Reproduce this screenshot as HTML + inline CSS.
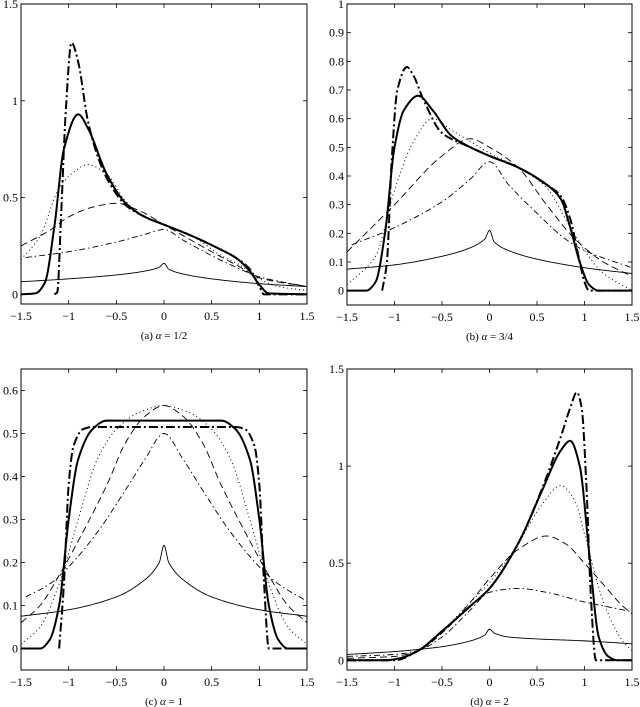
<!DOCTYPE html>
<html><head><meta charset="utf-8"><style>
body{margin:0;background:#fff}
svg{display:block;font-family:"Liberation Serif",serif}
</style></head><body>
<svg id="chart" width="640" height="707" viewBox="0 0 640 707" xmlns="http://www.w3.org/2000/svg"></svg>
<script>
// Panel (a) alpha=1/2
const aThinX=[-1.5,-1,-0.5,-0.2,-0.05,0,0.05,0.2,0.5,1,1.5];
const aThinY=[0.065,0.08,0.1,0.12,0.14,0.16,0.13,0.105,0.08,0.055,0.04];
const aDdX=[-1.45,-1,-0.5,-0.2,0,0.2,0.5,0.8,1,1.5];
const aDdY=[0.19,0.22,0.27,0.31,0.335,0.28,0.2,0.13,0.09,0.04];
const aDashX=[-1.5,-1.2,-1,-0.75,-0.5,-0.25,0,0.5,0.8,1,1.5];
const aDashY=[0.25,0.33,0.4,0.45,0.47,0.43,0.36,0.22,0.14,0.085,0.04];
const aDotX=[-1.5,-1.3,-1.1,-0.95,-0.8,-0.6,-0.4,-0.2,0,0.3,0.6,0.8,1,1.2,1.5];
const aDotY=[0.18,0.3,0.55,0.63,0.67,0.62,0.48,0.4,0.36,0.3,0.2,0.15,0.08,0.04,0.02];
const aThickX=[-1.5,-1.35,-1.25,-1.15,-1.05,-0.9,-0.8,-0.6,-0.4,-0.2,0,0.3,0.6,0.75,0.9,1,1.1,1.5];
const aThickY=[0,0.005,0.06,0.35,0.75,0.93,0.86,0.62,0.47,0.4,0.36,0.3,0.23,0.19,0.12,0.05,0.005,0];
const aTddX=[-1.15,-1.12,-1.08,-1.03,-0.97,-0.9,-0.8,-0.7,-0.6,-0.4,-0.2,0,0.3,0.6,0.75,0.9,1,1.05,1.5];
const aTddY=[0,0.01,0.4,0.95,1.3,1.2,0.9,0.72,0.6,0.46,0.4,0.36,0.3,0.23,0.19,0.13,0.04,0,0];
// Panel (b) alpha=3/4
const bThinX=[-1.5,-1,-0.5,-0.2,-0.05,0,0.05,0.2,0.5,1,1.5];
const bThinY=[0.075,0.09,0.12,0.15,0.18,0.21,0.17,0.14,0.11,0.08,0.06];
const bDdX=[-1.45,-1,-0.5,-0.2,0,0.2,0.5,0.8,1,1.5];
const bDdY=[0.16,0.22,0.31,0.39,0.45,0.37,0.27,0.18,0.14,0.08];
const bDashX=[-1.5,-1,-0.5,-0.2,0,0.3,0.6,0.9,1.2,1.5];
const bDashY=[0.135,0.3,0.47,0.53,0.5,0.43,0.3,0.18,0.1,0.05];
const bDotX=[-1.5,-1.2,-1,-0.8,-0.6,-0.4,-0.2,0,0.3,0.6,0.8,1,1.2,1.5];
const bDotY=[0.02,0.12,0.35,0.52,0.6,0.56,0.52,0.48,0.43,0.36,0.25,0.14,0.06,0];
const bThickX=[-1.5,-1.3,-1.2,-1.1,-1,-0.9,-0.75,-0.6,-0.4,-0.2,0,0.3,0.6,0.75,0.85,0.95,1.05,1.15,1.5];
const bThickY=[0,0,0.03,0.2,0.5,0.63,0.68,0.63,0.54,0.5,0.47,0.43,0.37,0.32,0.22,0.1,0.02,0,0];
const bTddX=[-1.13,-1.08,-1.03,-0.97,-0.87,-0.8,-0.7,-0.5,-0.2,0,0.3,0.6,0.75,0.85,0.95,1,1.05,1.5];
const bTddY=[0,0.1,0.45,0.7,0.78,0.75,0.67,0.55,0.5,0.47,0.43,0.37,0.33,0.25,0.1,0.03,0,0];
// Panel (c) alpha=1
const cThinX=[-1.5,-1,-0.5,-0.2,-0.05,0,0.05,0.2,0.5,1,1.5];
const cThinY=[0.075,0.09,0.12,0.16,0.2,0.24,0.2,0.16,0.12,0.09,0.075];
const cDdX=[-1.45,-1.2,-1,-0.7,-0.4,-0.2,0,0.2,0.4,0.7,1,1.2,1.5];
const cDdY=[0.12,0.15,0.19,0.27,0.37,0.44,0.5,0.44,0.37,0.27,0.19,0.15,0.11];
const cDashX=[-1.5,-1.3,-1.1,-0.9,-0.6,-0.4,-0.2,0,0.2,0.4,0.6,0.9,1.1,1.3,1.5];
const cDashY=[0.06,0.1,0.17,0.25,0.38,0.48,0.54,0.565,0.54,0.48,0.38,0.25,0.17,0.1,0.06];
const cDotX=[-1.5,-1.3,-1.1,-0.9,-0.7,-0.5,-0.25,0,0.25,0.5,0.7,0.9,1.1,1.3,1.5];
const cDotY=[0.01,0.05,0.15,0.3,0.44,0.51,0.55,0.565,0.55,0.51,0.44,0.3,0.15,0.05,0.01];
const cThickX=[-1.5,-1.3,-1.2,-1.1,-1,-0.9,-0.75,-0.6,0,0.6,0.75,0.9,1,1.1,1.2,1.3,1.5];
const cThickY=[0,0,0.02,0.1,0.3,0.44,0.51,0.53,0.53,0.53,0.51,0.44,0.3,0.1,0.02,0,0];
const cTddX=[-1.1,-1.05,-1,-0.95,-0.85,-0.75,0,0.75,0.85,0.95,1,1.05,1.1,1.5];
const cTddY=[0,0.15,0.38,0.47,0.51,0.515,0.515,0.515,0.51,0.47,0.38,0.15,0,0];
// Panel (d) alpha=2
const dThinX=[-1.5,-1,-0.5,-0.2,-0.05,0,0.05,0.2,0.5,1,1.5];
const dThinY=[0.03,0.045,0.07,0.1,0.13,0.16,0.14,0.12,0.11,0.1,0.085];
const dDdX=[-1.5,-1,-0.75,-0.5,-0.2,0,0.3,0.6,1,1.3,1.5];
const dDdY=[0.02,0.03,0.05,0.12,0.26,0.35,0.37,0.35,0.3,0.27,0.25];
const dDashX=[-1.5,-1,-0.75,-0.5,-0.2,0,0.3,0.6,0.8,1,1.2,1.4,1.5];
const dDashY=[0.01,0.02,0.05,0.14,0.3,0.42,0.57,0.64,0.6,0.5,0.39,0.28,0.24];
const dDotX=[-1.5,-1,-0.75,-0.5,-0.2,0,0.3,0.55,0.75,0.9,1,1.2,1.4,1.5];
const dDotY=[0,0.005,0.05,0.15,0.3,0.4,0.6,0.8,0.9,0.82,0.65,0.3,0.1,0.05];
const dThickX=[-1.5,-1.1,-0.95,-0.75,-0.5,-0.2,0,0.3,0.55,0.75,0.85,0.95,1.05,1.15,1.25,1.35,1.5];
const dThickY=[0,0,0.01,0.05,0.15,0.28,0.37,0.6,0.87,1.08,1.13,1,0.55,0.12,0.02,0,0];
const dTddX=[-1.5,-1,-0.75,-0.5,-0.2,0,0.3,0.55,0.75,0.85,0.92,0.97,1.02,1.07,1.12,1.5];
const dTddY=[0,0,0.05,0.15,0.28,0.37,0.6,0.88,1.15,1.3,1.38,1.3,0.9,0.3,0,0];

const xTicks=[-1.5,-1,-0.5,0,0.5,1,1.5];
const xTickLabels=["\u22121.5","\u22121","\u22120.5","0","0.5","1","1.5"];
const panels=[
 {id:"a",cap:"(a) ",capV:" = 1/2",x0:21,x1:307,y0:4,y1:304,ymin:-0.05,ymax:1.5,yt:[0,0.5,1,1.5],s:[[aThinX,aThinY],[aDdX,aDdY],[aDashX,aDashY],[aDotX,aDotY],[aThickX,aThickY],[aTddX,aTddY]]},
 {id:"b",cap:"(b) ",capV:" = 3/4",x0:347,x1:632,y0:4,y1:305,ymin:-0.05,ymax:1,yt:[0,0.1,0.2,0.3,0.4,0.5,0.6,0.7,0.8,0.9,1],s:[[bThinX,bThinY],[bDdX,bDdY],[bDashX,bDashY],[bDotX,bDotY],[bThickX,bThickY],[bTddX,bTddY]]},
 {id:"c",cap:"(c) ",capV:" = 1",x0:21,x1:307,y0:369,y1:670,ymin:-0.05,ymax:0.65,yt:[0,0.1,0.2,0.3,0.4,0.5,0.6],s:[[cThinX,cThinY],[cDdX,cDdY],[cDashX,cDashY],[cDotX,cDotY],[cThickX,cThickY],[cTddX,cTddY]]},
 {id:"d",cap:"(d) ",capV:" = 2",x0:347,x1:632,y0:369,y1:670,ymin:-0.05,ymax:1.5,yt:[0,0.5,1,1.5],s:[[dThinX,dThinY],[dDdX,dDdY],[dDashX,dDashY],[dDotX,dDotY],[dThickX,dThickY],[dTddX,dTddY]]}
];
const styles=[
 {w:0.9,d:"",n:"thin-solid"},
 {w:0.9,d:"6,3,1.5,3",n:"thin-dashdot"},
 {w:0.9,d:"7,4",n:"dashed"},
 {w:1,d:"1,3",n:"dotted"},
 {w:2,d:"",n:"thick-solid"},
 {w:2,d:"9,3,2,3",n:"thick-dashdot"}
];
const NS="http://www.w3.org/2000/svg";
const svg=document.getElementById("chart");
function mk(tag,attrs,parent){const e=document.createElementNS(NS,tag);for(const k in attrs)e.setAttribute(k,attrs[k]);(parent||svg).appendChild(e);return e;}
function fmt(v){return (Math.round(v*10)/10).toString();}
function monotone(xs,ys){
 const n=xs.length,d=[],m=[];
 for(let i=0;i<n-1;i++)d.push((ys[i+1]-ys[i])/(xs[i+1]-xs[i]));
 m[0]=d[0];m[n-1]=d[n-2];
 for(let i=1;i<n-1;i++){ if(d[i-1]*d[i]<=0)m[i]=0; else {m[i]=2/(1/d[i-1]+1/d[i]);} }
 const out=[];
 for(let i=0;i<n-1;i++){const h=xs[i+1]-xs[i];
  for(let k=0;k<20;k++){const t=k/20,t2=t*t,t3=t2*t;
   const y=(2*t3-3*t2+1)*ys[i]+(t3-2*t2+t)*h*m[i]+(-2*t3+3*t2)*ys[i+1]+(t3-t2)*h*m[i+1];
   out.push([xs[i]+t*h,y]);}}
 out.push([xs[n-1],ys[n-1]]);return out;
}
panels.forEach(p=>{
 const g=mk("g",{});
 
 
 const X=v=>p.x0+(v+1.5)/3*(p.x1-p.x0);
 const Y=v=>p.y1-(v-p.ymin)/(p.ymax-p.ymin)*(p.y1-p.y0);
 const cp=mk("clipPath",{id:"clip"+p.id},g);
 mk("rect",{x:p.x0,y:p.y0,width:p.x1-p.x0,height:p.y1-p.y0},cp);
 p.s.forEach((ser,i)=>{
  const pts=monotone(ser[0],ser[1]);
  const st=styles[i];
  const path=mk("path",{d:"M"+pts.map(q=>X(q[0]).toFixed(2)+","+Y(q[1]).toFixed(2)).join("L"),fill:"none",stroke:"#000","stroke-width":st.w,"stroke-dasharray":st.d,"clip-path":"url(#clip"+p.id+")","stroke-linejoin":"round"},g);
  
  
 });
 const box=mk("rect",{x:p.x0,y:p.y0,width:p.x1-p.x0,height:p.y1-p.y0,fill:"none",stroke:"#000","stroke-width":1},g);
 
 
 xTicks.forEach((v,i)=>{
  const x=X(v);
  mk("line",{x1:x,x2:x,y1:p.y1,y2:p.y1-4,stroke:"#000","stroke-width":0.8},g);
  mk("line",{x1:x,x2:x,y1:p.y0,y2:p.y0+4,stroke:"#000","stroke-width":0.8},g);
  const t=mk("text",{x:x,y:p.y1+16,"text-anchor":"middle","font-size":12},g);
  t.textContent=xTickLabels[i];
  
  
 });
 p.yt.forEach(v=>{
  const y=Y(v);
  mk("line",{x1:p.x0,x2:p.x0+4,y1:y,y2:y,stroke:"#000","stroke-width":0.8},g);
  mk("line",{x1:p.x1,x2:p.x1-4,y1:y,y2:y,stroke:"#000","stroke-width":0.8},g);
  const t=mk("text",{x:p.x0-3,y:y+4,"text-anchor":"end","font-size":12},g);
  t.textContent=fmt(v);
  
  
 });
 const c=mk("text",{x:(p.x0+p.x1)/2,y:p.y1+35,"text-anchor":"middle","font-size":11},g);
 
 
 c.appendChild(document.createTextNode(p.cap));
 const ital=mk("tspan",{"font-style":"italic"},c);ital.textContent="α";
 c.appendChild(document.createTextNode(p.capV));
});
</script>
</body></html>
